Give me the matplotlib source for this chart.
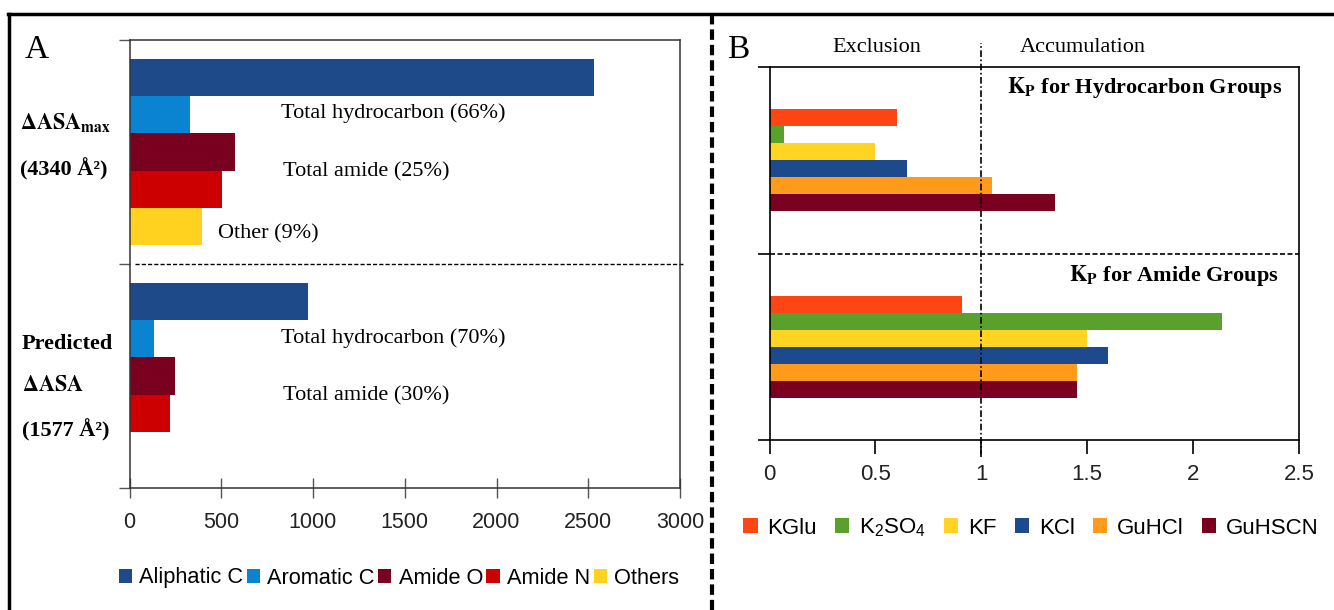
import numpy as np
import matplotlib
matplotlib.use("Agg")
import matplotlib.pyplot as plt
from matplotlib.lines import Line2D

plt.rcParams['font.family'] = ['Liberation Sans', 'DejaVu Sans']
plt.rcParams['mathtext.fontset'] = 'stix'

# --- data: panel A (surface area, Å^2) ---
atom_types = ['Aliphatic C', 'Aromatic C', 'Amide O', 'Amide N', 'Others']
asa_max = [2530, 330, 577, 502, 397]
asa_pred = [974, 131, 250, 223, 0]
colors_a = ['#1f4a8a', '#0a84d0', '#7a0020', '#cc0000', '#ffd21f']

# --- data: panel B (partition coefficients) ---
salts = ['KGlu', r'K$\mathregular{_2}$SO$\mathregular{_4}$', 'KF', 'KCl', 'GuHCl', 'GuHSCN']
kp_hydrocarbon = [0.60, 0.07, 0.50, 0.65, 1.05, 1.35]
kp_amide = [0.91, 2.135, 1.50, 1.60, 1.45, 1.45]
colors_b = ['#ff4513', '#5aa02c', '#ffd422', '#1c4a8c', '#ff9a1a', '#7a0020']

W, H = 1334, 610
SERIF = 'Liberation Serif'


def fx(x):
    return x / W


def fy(y):
    return 1 - y / H


fig = plt.figure(figsize=(W / 100, H / 100), dpi=100)

# ---------------- panel A ----------------
axA = fig.add_axes([fx(129.5), fy(488), (680 - 129.5) / W, (488 - 40) / H])
h = 0.166
groups = np.arange(2)
for i, atom in enumerate(atom_types):
    axA.barh(groups + (i - 2) * h, [asa_max[i], asa_pred[i]], height=h,
             color=colors_a[i], label=atom)
axA.set_xlim(0, 3000)
axA.set_ylim(1.5, -0.5)
axA.set_xticks(np.arange(0, 3001, 500))
axA.set_yticks([-0.5, 0.5, 1.5])
axA.set_yticklabels([])
axA.tick_params(axis='x', direction='inout', length=15, width=1, color='#555',
                labelsize=15.5, labelcolor='#222', pad=10)
axA.tick_params(axis='y', direction='out', length=8, width=1, color='#555')
for s in axA.spines.values():
    s.set_color('#333')
    s.set_linewidth(1.1)
axA.axhline(0.5, xmin=0.01, xmax=1.005, color='black', lw=1,
            ls=(0, (3, 1.5)), clip_on=False)

fig.legend(*axA.get_legend_handles_labels(), loc='center',
           bbox_to_anchor=(fx(399), fy(578)), ncol=5, frameon=False,
           fontsize=15.7, handlelength=0.6, handleheight=0.6,
           handletextpad=0.35, columnspacing=0.15, borderaxespad=0)

# panel A texts
fig.text(fx(25), fy(50), 'A', family=SERIF, fontsize=24, ha='left', va='center')
lab = dict(family=SERIF, fontsize=16, fontweight='bold', ha='left', va='center')
fig.text(fx(20), fy(123), r'$\mathbf{\Delta ASA_{max}}$', **lab)
fig.text(fx(20), fy(169), '(4340 Å²)', **lab)
fig.text(fx(22), fy(344), 'Predicted', **lab)
fig.text(fx(22), fy(386), r'$\mathbf{\Delta ASA}$', **lab)
fig.text(fx(22), fy(430), '(1577 Å²)', **lab)
ann = dict(family=SERIF, fontsize=16, ha='left', va='center')
fig.text(fx(281), fy(113), 'Total hydrocarbon (66%)', **ann)
fig.text(fx(283), fy(172), 'Total amide (25%)', **ann)
fig.text(fx(218), fy(234), 'Other (9%)', **ann)
fig.text(fx(281), fy(338), 'Total hydrocarbon (70%)', **ann)
fig.text(fx(283), fy(396), 'Total amide (30%)', **ann)

# ---------------- panel B ----------------
axB = fig.add_axes([fx(769.5), fy(440), (1299 - 769.5) / W, (440 - 67) / H])
hb = 0.091
for i, salt in enumerate(salts):
    axB.barh(groups + (i - 2.5) * hb, [kp_hydrocarbon[i], kp_amide[i]],
             height=hb, color=colors_b[i], label=salt)
axB.set_xlim(0, 2.5)
axB.set_ylim(1.5, -0.5)
axB.set_xticks(np.arange(0, 2.51, 0.5))
axB.set_xticklabels(['0', '0.5', '1', '1.5', '2', '2.5'])
axB.set_yticks([-0.5, 0.5, 1.5])
axB.set_yticklabels([])
axB.tick_params(axis='x', direction='out', length=10, width=1.2, color='black',
                labelsize=16, labelcolor='#222', pad=7)
axB.tick_params(axis='y', direction='out', length=9, width=1.2, color='black')
for s in axB.spines.values():
    s.set_color('black')
    s.set_linewidth(1.2)
axB.axhline(0.5, color='black', lw=1.2, ls=(0, (3, 1.5)))
axB.axvline(1.0, ymin=-0.046, ymax=1.064, color='black', lw=1.2,
            ls=(0, (4, 1.5, 1, 1.5)), clip_on=False)

fig.legend(*axB.get_legend_handles_labels(), loc='center',
           bbox_to_anchor=(fx(1031), fy(528)), ncol=6, frameon=False,
           fontsize=16, handlelength=0.65, handleheight=0.65,
           handletextpad=0.45, columnspacing=0.8, borderaxespad=0)

fig.text(fx(727), fy(50), 'B', family=SERIF, fontsize=24, ha='left', va='center')
fig.text(fx(877), fy(48), 'Exclusion', family=SERIF, fontsize=16, ha='center', va='center')
fig.text(fx(1083), fy(48), 'Accumulation', family=SERIF, fontsize=16, ha='center', va='center')
kp = dict(family=SERIF, fontsize=16, fontweight='bold', ha='right', va='center')
fig.text(fx(1282), fy(87), r'$\mathbf{K_P}$ for Hydrocarbon Groups', **kp)
fig.text(fx(1279), fy(276), r'$\mathbf{K_P}$ for Amide Groups', **kp)

# ---------------- outer frame ----------------
fig.add_artist(Line2D([fx(8), 1], [fy(14), fy(14)], transform=fig.transFigure,
                      color='black', lw=2.5))
fig.add_artist(Line2D([fx(9), fx(9)], [fy(14), 0], transform=fig.transFigure,
                      color='black', lw=2.5))
fig.add_artist(Line2D([fx(712), fx(712)], [fy(14), 0], transform=fig.transFigure,
                      color='black', lw=3, ls=(0, (2.5, 1.2))))

fig.savefig('out.png', dpi=100)
